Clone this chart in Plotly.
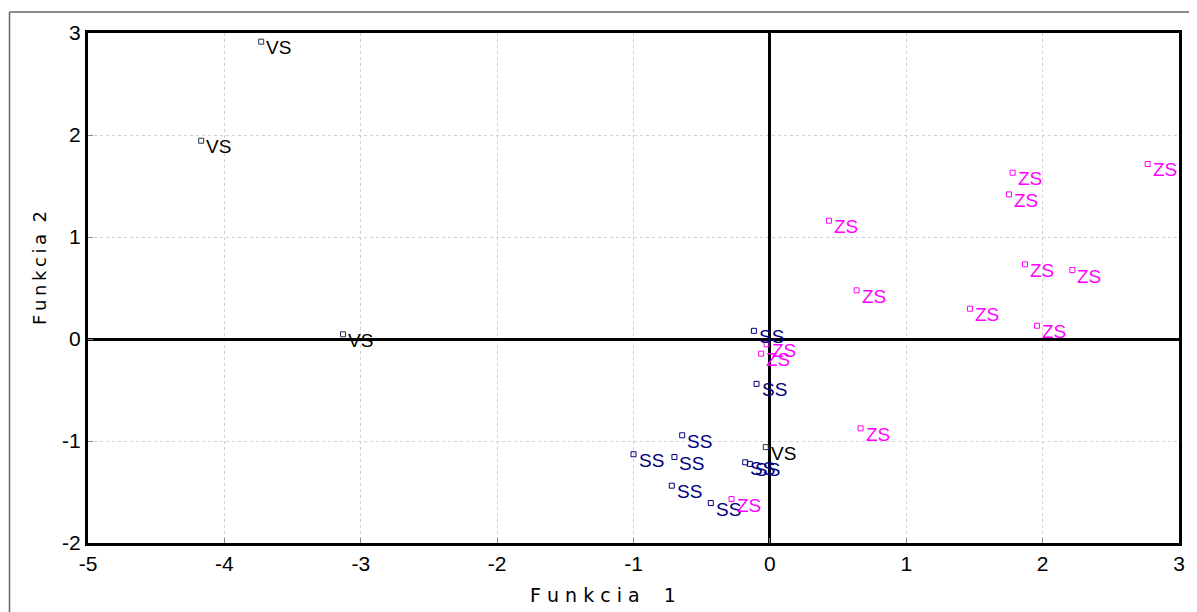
import plotly.graph_objects as go

# Group VS
vs_x = [-3.73, -4.17, -3.13, -0.03]
vs_y = [2.915, 1.944, 0.046, -1.06]
# Group SS
ss_x = [-0.117, -0.098, -0.643, -1.00, -0.70, -0.181, -0.147, -0.719, -0.433]
ss_y = [0.08, -0.44, -0.944, -1.13, -1.157, -1.209, -1.225, -1.438, -1.608]
# Group ZS
zs_x = [-0.024, -0.064, -0.281, 0.433, 0.636, 1.78, 1.753, 2.77, 1.871, 2.218, 1.467, 1.959, 0.665]
zs_y = [-0.052, -0.144, -1.569, 1.16, 0.477, 1.63, 1.418, 1.716, 0.732, 0.676, 0.297, 0.13, -0.876]

x_ticks = [-5, -4, -3, -2, -1, 0, 1, 2, 3]
y_ticks = [-2, -1, 0, 1, 2, 3]

x_title = "Funkcia 1"
y_title = "Funkcia 2"

groups = [("VS", vs_x, vs_y, "#000000", "#2a2a50"),
          ("SS", ss_x, ss_y, "#000080", "#000080"),
          ("ZS", zs_x, zs_y, "#ff00ff", "#ff00ff")]

FONT = "Liberation Sans, Arial, sans-serif"
TFONT = "DejaVu Sans, Verdana, sans-serif"


def spaced(s, gap, wordgap):
    words = s.split(" ")
    return wordgap.join(gap.join(w) for w in words)


fig = go.Figure()
annotations = []
for name, xs, ys, tcol, mcol in groups:
    fig.add_trace(go.Scatter(
        x=xs, y=ys, mode="markers", name=name,
        marker=dict(symbol="square-open", size=5, color=mcol, line=dict(width=1, color=mcol)),
        cliponaxis=False, showlegend=False,
    ))
    for xv, yv in zip(xs, ys):
        annotations.append(dict(
            x=xv, y=yv, xref="x", yref="y", text=name, showarrow=False,
            xanchor="left", yanchor="middle", xshift=3, yshift=-6,
            font=dict(family=FONT, size=19, color=tcol),
        ))

axis_common = dict(
    showline=True, linecolor="black", linewidth=3, mirror=True,
    showgrid=True, gridcolor="#d0d0d0", griddash="dot", gridwidth=1,
    zeroline=True, zerolinecolor="black", zerolinewidth=3,
    ticks="inside", ticklen=5, tickcolor="#888888",
    tickfont=dict(family=FONT, size=21, color="black"),
    automargin=False,
)

fig.update_xaxes(range=[-5, 3], tickvals=x_ticks, ticktext=[str(v) for v in x_ticks], **axis_common)
fig.update_yaxes(range=[-2, 3], tickvals=y_ticks, ticktext=[str(v) for v in y_ticks], **axis_common)

# page body adds an 8px offset; margins below compensate for it
L, R, T, B = 80, 26, 25, 77
pw = 1197 - L - R
ph = 612 - T - B
fx = lambda px: (px - L) / pw
fy = lambda py: (612 - B - py) / ph

annotations.append(dict(
    x=fx(595), y=fy(587), xref="paper", yref="paper", showarrow=False,
    text=spaced(x_title, " ", "\u00a0\u00a0\u00a0\u00a0"),
    xanchor="center", yanchor="middle",
    font=dict(family=TFONT, size=19, color="black"),
))
annotations.append(dict(
    x=fx(31.5), y=fy(260.5), xref="paper", yref="paper", showarrow=False,
    text=spaced(y_title, "\u2009", "\u00a0\u00a0"), textangle=-90,
    xanchor="center", yanchor="middle",
    font=dict(family=TFONT, size=18, color="black"),
))

fig.update_layout(
    width=1197, height=612,
    margin=dict(l=L, r=R, t=T, b=B, autoexpand=False),
    paper_bgcolor="white", plot_bgcolor="white",
    annotations=annotations,
    shapes=[
        dict(type="line", xref="paper", yref="paper", x0=fx(1.5), x1=fx(1300), y0=fy(4), y1=fy(4),
             line=dict(color="#666666", width=1.5)),
        dict(type="line", xref="paper", yref="paper", x0=fx(1.5), x1=fx(1.5), y0=fy(4), y1=fy(700),
             line=dict(color="#666666", width=1.5)),
    ],
)

fig.write_html("out.html")
